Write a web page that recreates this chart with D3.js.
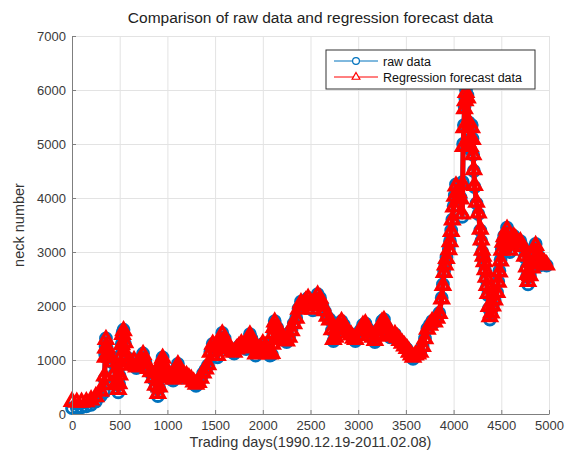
<!DOCTYPE html>
<html>
<head>
<meta charset="utf-8">
<script src="https://cdn.jsdelivr.net/npm/d3@7"></script>
<style>
  body { margin: 0; background: #fff; }
  text { font-family: "Liberation Sans", Arial, sans-serif; }
</style>
</head>
<body>
<svg id="chart" width="566" height="460"></svg>
<script>
const days = [
  0, 50, 100, 150, 200, 250, 300, 335, 341, 348,
  352, 356, 368, 380, 400, 425, 450, 470, 485, 493,
  500, 508, 515, 522, 530, 540, 555, 575, 600, 625,
  650, 675, 700, 725, 745, 770, 800, 825, 850, 875,
  900, 915, 925, 935, 942, 950, 965, 985, 1010, 1035,
  1060, 1080, 1100, 1110, 1125, 1150, 1175, 1200, 1225, 1250,
  1275, 1300, 1325, 1350, 1375, 1400, 1425, 1450, 1475, 1500,
  1525, 1550, 1575, 1600, 1625, 1650, 1675, 1700, 1725, 1750,
  1775, 1800, 1825, 1850, 1865, 1880, 1900, 1925, 1950, 1975,
  2000, 2025, 2050, 2075, 2095, 2103, 2110, 2117, 2125, 2150,
  2175, 2200, 2225, 2250, 2275, 2300, 2325, 2350, 2375, 2400,
  2425, 2450, 2475, 2500, 2525, 2550, 2575, 2600, 2625, 2650,
  2675, 2700, 2725, 2740, 2760, 2780, 2800, 2825, 2850, 2875,
  2900, 2925, 2950, 2970, 3000, 3025, 3050, 3075, 3100, 3125,
  3150, 3175, 3200, 3225, 3250, 3270, 3290, 3310, 3335, 3360,
  3385, 3410, 3435, 3460, 3485, 3510, 3535, 3555, 3575, 3600,
  3625, 3650, 3675, 3700, 3725, 3750, 3775, 3800, 3825, 3850,
  3875, 3888, 3900, 3912, 3925, 3950, 3962, 3975, 3987, 4000,
  4012, 4025, 4050, 4075, 4090, 4095, 4100, 4108, 4115, 4122,
  4130, 4145, 4160, 4175, 4182, 4190, 4198, 4205, 4212, 4220,
  4240, 4260, 4280, 4290, 4300, 4310, 4320, 4330, 4340, 4350,
  4360, 4370, 4380, 4395, 4410, 4430, 4455, 4468, 4480, 4492,
  4505, 4518, 4530, 4560, 4575, 4590, 4610, 4630, 4650, 4675,
  4700, 4720, 4745, 4765, 4772, 4780, 4800, 4825, 4845, 4860,
  4880, 4900, 4925, 4950, 4975
];

const rawData = [
  110, 115, 125, 140, 170, 230, 330, 400, 650, 1100,
  1250, 1400, 1200, 1100, 1050, 950, 750, 550, 400, 550,
  700, 900, 1100, 1300, 1500, 1560, 1300, 1050, 950, 900,
  1000, 850, 950, 1000, 1120, 950, 820, 760, 650, 500,
  330, 480, 700, 900, 980, 1050, 850, 750, 700, 650,
  620, 700, 850, 930, 750, 680, 720, 700, 660, 620,
  560, 520, 560, 650, 750, 820, 900, 1150, 1300, 1250,
  1050, 1300, 1500, 1400, 1250, 1200, 1150, 1120, 1200, 1250,
  1300, 1250, 1200, 1350, 1480, 1400, 1250, 1080, 1150, 1200,
  1300, 1250, 1150, 1080, 1100, 1300, 1500, 1620, 1720, 1600,
  1500, 1430, 1380, 1330, 1420, 1550, 1680, 1780, 1950, 2080,
  2000, 2100, 2150, 2080, 1920, 2050, 2220, 2150, 2000, 1900,
  1800, 1750, 1550, 1350, 1400, 1600, 1650, 1720, 1650, 1550,
  1500, 1450, 1380, 1350, 1450, 1550, 1650, 1680, 1580, 1500,
  1400, 1330, 1450, 1580, 1720, 1750, 1620, 1500, 1420, 1450,
  1480, 1400, 1350, 1300, 1250, 1200, 1120, 1060, 1020, 1080,
  1100, 1130, 1250, 1400, 1580, 1650, 1720, 1700, 1780, 1870,
  2150, 2400, 2650, 2780, 2900, 3050, 3200, 3400, 3600, 3850,
  4050, 4250, 4100, 4000, 3650, 4300, 5000, 5350, 5700, 5850,
  6000, 5900, 5400, 4900, 5100, 5350, 5100, 4800, 4500, 4200,
  3900, 3700, 3400, 3200, 3000, 2900, 2800, 2650, 2500, 2350,
  2200, 1950, 1750, 1850, 2000, 2100, 2250, 2450, 2650, 2850,
  3050, 3200, 3300, 3450, 3200, 3000, 3200, 3300, 3250, 3150,
  3200, 3100, 2900, 2700, 2550, 2400, 2550, 2700, 3000, 3150,
  2950, 2750, 2850, 2800, 2750
];

const forecastData = [
  230, 215, 215, 225, 260, 320, 420, 540, 700, 1050,
  1220, 1380, 1220, 1110, 1050, 960, 770, 590, 450, 560,
  720, 900, 1080, 1280, 1470, 1540, 1320, 1070, 960, 920,
  990, 870, 950, 1010, 1100, 960, 840, 780, 670, 530,
  380, 500, 690, 880, 970, 1030, 870, 770, 710, 670,
  640, 710, 840, 910, 770, 700, 720, 710, 670, 640,
  590, 550, 580, 660, 760, 830, 910, 1140, 1290, 1250,
  1080, 1290, 1480, 1400, 1260, 1210, 1160, 1140, 1200, 1250,
  1300, 1260, 1220, 1340, 1460, 1400, 1260, 1110, 1160, 1210,
  1300, 1250, 1170, 1110, 1120, 1290, 1480, 1600, 1700, 1600,
  1500, 1440, 1390, 1350, 1420, 1540, 1670, 1770, 1940, 2060,
  2010, 2090, 2140, 2070, 1940, 2050, 2200, 2140, 2010, 1910,
  1810, 1740, 1560, 1380, 1420, 1590, 1650, 1710, 1650, 1560,
  1500, 1460, 1400, 1380, 1450, 1550, 1640, 1670, 1590, 1510,
  1420, 1360, 1450, 1570, 1700, 1730, 1620, 1510, 1440, 1450,
  1470, 1410, 1360, 1310, 1260, 1210, 1140, 1090, 1050, 1090,
  1110, 1140, 1250, 1390, 1570, 1640, 1710, 1700, 1770, 1860,
  2130, 2380, 2620, 2760, 2880, 3040, 3190, 3380, 3590, 3830,
  4030, 4220, 4100, 3980, 3700, 4250, 4950, 5300, 5650, 5800,
  5950, 5850, 5400, 4950, 5100, 5300, 5080, 4800, 4520, 4230,
  3920, 3720, 3420, 3220, 3030, 2920, 2820, 2670, 2530, 2380,
  2230, 1990, 1800, 1870, 2000, 2110, 2250, 2440, 2630, 2830,
  3030, 3180, 3280, 3420, 3200, 3030, 3190, 3280, 3240, 3160,
  3190, 3100, 2920, 2720, 2580, 2450, 2560, 2700, 2980, 3120,
  2950, 2780, 2840, 2800, 2760
];

const xTicks = [0, 500, 1000, 1500, 2000, 2500, 3000, 3500, 4000, 4500, 5000];
const yTicks = [0, 1000, 2000, 3000, 4000, 5000, 6000, 7000];
const seriesNames = ["raw data", "Regression forecast data"];
const seriesColors = ["#0072bd", "#ff0000"];

const svg = d3.select("#chart");
const W = 566, H = 460;
const m = {left: 72, right: 17, top: 36, bottom: 46};
const pw = W - m.left - m.right, ph = H - m.top - m.bottom;

svg.append("rect").attr("width", W).attr("height", H).attr("fill", "#fff");

const x = d3.scaleLinear().domain([0, 5000]).range([0, pw]);
const y = d3.scaleLinear().domain([0, 7000]).range([ph, 0]);

const g = svg.append("g").attr("transform", `translate(${m.left},${m.top})`);

// grid
g.append("g").attr("transform", `translate(0,${ph})`)
  .call(d3.axisBottom(x).tickValues(xTicks).tickSize(-ph).tickFormat(""))
  .call(s => s.select(".domain").remove())
  .call(s => s.selectAll("line").attr("stroke", "#e3e3e3").attr("stroke-width", 1));
g.append("g")
  .call(d3.axisLeft(y).tickValues(yTicks).tickSize(-pw).tickFormat(""))
  .call(s => s.select(".domain").remove())
  .call(s => s.selectAll("line").attr("stroke", "#e3e3e3").attr("stroke-width", 1));

// series: markers are drawn heavy so the dense daily cloud reads as a band
const rows = days.map((d, i) => ({d: d, raw: rawData[i], fc: forecastData[i]}));
const plot = g.append("g");

const lineRaw = d3.line().x(r => x(r.d)).y(r => y(r.raw));
const lineFc = d3.line().x(r => x(r.d)).y(r => y(r.fc));

plot.append("path").datum(rows).attr("d", lineRaw)
  .attr("fill", "none").attr("stroke", seriesColors[0]).attr("stroke-width", 5)
  .attr("stroke-linejoin", "round");
plot.selectAll("circle.raw").data(rows).enter().append("circle")
  .attr("class", "raw")
  .attr("cx", r => x(r.d)).attr("cy", r => y(r.raw)).attr("r", 5.4)
  .attr("fill", "none").attr("stroke", seriesColors[0]).attr("stroke-width", 3);

const tri = d3.symbol().type(d3.symbolTriangle).size(72);
plot.append("path").datum(rows).attr("d", lineFc)
  .attr("fill", "none").attr("stroke", seriesColors[1]).attr("stroke-width", 5)
  .attr("stroke-linejoin", "round");
plot.selectAll("path.fc").data(rows).enter().append("path")
  .attr("class", "fc")
  .attr("transform", r => `translate(${x(r.d)},${y(r.fc)})`)
  .attr("d", tri)
  .attr("fill", "none").attr("stroke", seriesColors[1]).attr("stroke-width", 3.4);

// axes
const axisColor = "#7f7f7f", labelColor = "#3a3a3a";
const fmt = d3.format("d");
const xAxis = g.append("g").attr("transform", `translate(0,${ph})`)
  .call(d3.axisBottom(x).tickValues(xTicks).tickFormat(fmt).tickSizeInner(-4).tickSizeOuter(0).tickPadding(7));
const yAxis = g.append("g")
  .call(d3.axisLeft(y).tickValues(yTicks).tickFormat(fmt).tickSizeInner(-4).tickSizeOuter(0).tickPadding(6));
[xAxis, yAxis].forEach(a => {
  a.select(".domain").attr("stroke", axisColor);
  a.selectAll(".tick line").attr("stroke", axisColor);
  a.selectAll("text").attr("fill", labelColor).attr("font-size", "13px")
    .style("font-family", "'Liberation Sans', Arial, sans-serif");
});

// titles
svg.append("text").attr("x", m.left + pw / 2).attr("y", 23)
  .attr("text-anchor", "middle").attr("font-size", "15.5px").attr("fill", "#222")
  .text("Comparison of raw data and regression forecast data");
svg.append("text").attr("x", m.left + pw / 2).attr("y", 447)
  .attr("text-anchor", "middle").attr("font-size", "14.5px").attr("fill", "#333")
  .text("Trading days(1990.12.19-2011.02.08)");
svg.append("text").attr("transform", `translate(24,${m.top + ph / 2}) rotate(-90)`)
  .attr("text-anchor", "middle").attr("font-size", "14.5px").attr("fill", "#333")
  .text("neck number");

// legend
const legendTri = d3.symbol().type(d3.symbolTriangle).size(26);
const lg = svg.append("g").attr("transform", "translate(326,50)");
lg.append("rect").attr("width", 209).attr("height", 39)
  .attr("fill", "#fff").attr("stroke", "#333").attr("stroke-width", 1);
seriesNames.forEach((name, i) => {
  const ly = 11 + i * 16;
  lg.append("line").attr("x1", 8).attr("x2", 52).attr("y1", ly).attr("y2", ly)
    .attr("stroke", seriesColors[i]).attr("stroke-width", 1);
  if (i === 0) {
    lg.append("circle").attr("cx", 30).attr("cy", ly).attr("r", 3.4)
      .attr("fill", "#fff").attr("stroke", seriesColors[i]).attr("stroke-width", 1.2);
  } else {
    lg.append("path").attr("transform", `translate(30,${ly})`).attr("d", legendTri)
      .attr("fill", "#fff").attr("stroke", seriesColors[i]).attr("stroke-width", 1.2);
  }
  lg.append("text").attr("x", 57).attr("y", ly + 4.5).attr("font-size", "12.5px").attr("fill", "#111")
    .text(name);
});
</script>
</body>
</html>
